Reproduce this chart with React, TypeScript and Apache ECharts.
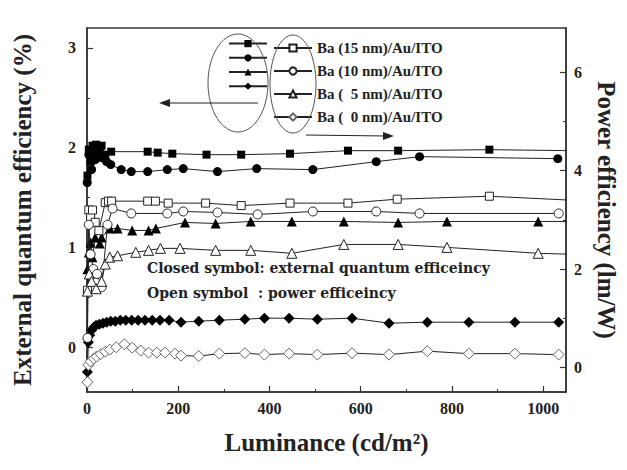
import React, { useEffect, useRef } from 'react';
import * as echarts from 'echarts';

// ---- axis ticks ----
const xTicks = [0, 200, 400, 600, 800, 1000];
const xMinorTicks = [100, 300, 500, 700, 900];
const eqeTicks = [0, 1, 2, 3];
const eqeMinorTicks = [0.5, 1.5, 2.5];
const peTicks = [0, 2, 4, 6];
const peMinorTicks = [1, 3, 5];

// ---- legend labels ----
const deviceNames = ['Ba (15 nm)/Au/ITO', 'Ba (10 nm)/Au/ITO', 'Ba (  5 nm)/Au/ITO', 'Ba (  0 nm)/Au/ITO'];

// ---- external quantum efficiency (%), closed symbols, left axis ----
const eqe15: number[][] = [[1, 1.72], [4, 1.98], [8, 1.86], [12, 2.02], [16, 1.95], [20, 2.03], [26, 1.97], [32, 2.02], [40, 1.93], [53, 1.96], [133, 1.96], [155, 1.95], [187, 1.94], [262, 1.93], [338, 1.93], [445, 1.94], [572, 1.97], [682, 1.97], [882, 1.98], [1060, 1.97]];
const eqe10: number[][] = [[0.5, 1.65], [4, 1.93], [10, 1.78], [18, 1.88], [32, 1.9], [43, 1.86], [52, 1.83], [75, 1.78], [97, 1.76], [133, 1.76], [176, 1.78], [211, 1.79], [286, 1.76], [372, 1.79], [495, 1.78], [634, 1.86], [729, 1.91], [1032, 1.89]];
const eqe5: number[][] = [[1, 0.78], [4, 0.95], [8, 1.05], [12, 0.9], [18, 1.1], [28, 1.04], [32, 1.1], [50, 1.19], [67, 1.19], [99, 1.17], [135, 1.17], [151, 1.19], [215, 1.25], [282, 1.24], [359, 1.26], [449, 1.26], [563, 1.26], [682, 1.25], [789, 1.26], [989, 1.26], [1060, 1.26]];
const eqe0: number[][] = [[1, -0.25], [3, 0.05], [6, 0.12], [10, 0.17], [15, 0.2], [20, 0.22], [27, 0.23], [35, 0.24], [43, 0.25], [52, 0.26], [62, 0.26], [73, 0.27], [85, 0.27], [98, 0.27], [112, 0.27], [127, 0.27], [143, 0.27], [160, 0.27], [180, 0.27], [206, 0.25], [245, 0.26], [290, 0.27], [346, 0.28], [389, 0.29], [443, 0.29], [505, 0.28], [581, 0.29], [662, 0.24], [746, 0.25], [837, 0.25], [938, 0.25], [1034, 0.25]];

// ---- power efficiency (lm/W), open symbols, right axis ----
const pe15: number[][] = [[1, 1.57], [4, 3.2], [8, 3.05], [12, 3.2], [18, 2.95], [26, 2.78], [40, 3.35], [47, 3.38], [54, 3.38], [133, 3.38], [150, 3.38], [178, 3.34], [260, 3.34], [338, 3.29], [445, 3.34], [572, 3.34], [680, 3.42], [882, 3.48], [1060, 3.4]];
const pe10: number[][] = [[1, 0.6], [4, 2.9], [8, 2.3], [14, 2.0], [22, 1.9], [32, 1.63], [45, 2.9], [56, 3.23], [97, 3.13], [176, 3.13], [211, 3.17], [286, 3.15], [374, 3.11], [495, 3.17], [634, 3.17], [729, 3.13], [1034, 3.13]];
const pe5: number[][] = [[1, 1.55], [5, 1.9], [10, 1.75], [20, 1.6], [32, 1.75], [40, 2.1], [50, 2.24], [67, 2.27], [107, 2.34], [135, 2.38], [161, 2.42], [204, 2.42], [282, 2.38], [359, 2.38], [449, 2.32], [563, 2.5], [682, 2.5], [789, 2.44], [989, 2.32], [1060, 2.3]];
const pe0: number[][] = [[1, -0.3], [3, 0.05], [8, 0.12], [15, 0.18], [21, 0.22], [30, 0.27], [40, 0.32], [50, 0.36], [64, 0.41], [82, 0.47], [99, 0.4], [118, 0.34], [135, 0.3], [153, 0.3], [171, 0.3], [193, 0.28], [206, 0.24], [245, 0.23], [290, 0.28], [346, 0.29], [389, 0.26], [443, 0.28], [505, 0.26], [581, 0.29], [662, 0.26], [746, 0.33], [837, 0.28], [938, 0.28], [1034, 0.26]];

const SERIF = '"Liberation Serif", "Times New Roman", serif';
const AX = '#333';

export default function App() {
  const ref = useRef<HTMLDivElement>(null);
  useEffect(() => {
    if (!ref.current) return;
    const chart = echarts.init(ref.current, undefined, { renderer: 'svg' });

    const closedSets = [eqe15, eqe10, eqe5, eqe0];
    const openSets = [pe15, pe10, pe5, pe0];
    const symbols = ['rect', 'circle', 'triangle', 'diamond'];
    const sizes = [8, 9, 10, 11];
    const closedNames = deviceNames.map((n) => 'EQE ' + n);

    const series: any[] = [];
    closedSets.forEach((d, i) => {
      series.push({
        type: 'line', name: closedNames[i], data: d, xAxisIndex: 0, yAxisIndex: 0,
        symbol: symbols[i], symbolSize: sizes[i], showSymbol: true,
        lineStyle: { color: '#222', width: 1 },
        itemStyle: { color: '#000', borderColor: '#000', borderWidth: 0 },
        emphasis: { disabled: true }, z: 3,
      });
    });
    openSets.forEach((d, i) => {
      series.push({
        type: 'line', name: deviceNames[i], data: d, xAxisIndex: 0, yAxisIndex: 1,
        symbol: symbols[i], symbolSize: sizes[i], showSymbol: true,
        lineStyle: { color: '#222', width: 1 },
        itemStyle: { color: '#fff', borderColor: i === 3 ? '#666' : '#222', borderWidth: 1 },
        emphasis: { disabled: true }, z: 4,
      });
    });

    const labelStyle = { fontFamily: SERIF, fontWeight: 'bold' as const, fontSize: 16, color: '#222' };
    const nameStyle = { fontFamily: SERIF, fontWeight: 'bold' as const, fontSize: 25, color: '#222' };
    const legendText = { fontFamily: SERIF, fontWeight: 'bold' as const, fontSize: 15, color: '#222', lineHeight: 16 };

    chart.setOption({
      animation: false,
      backgroundColor: '#fff',
      grid: { left: 87, right: 52, top: 28, bottom: 78, show: true, borderColor: AX, borderWidth: 1.5, backgroundColor: 'transparent' },
      legend: [
        {
          data: closedNames, orient: 'vertical', left: 228, top: 40, itemWidth: 38, itemHeight: 9, itemGap: 7,
          formatter: () => '', selectedMode: false, padding: 0, textStyle: legendText,
        },
        {
          data: deviceNames, orient: 'vertical', left: 273, top: 40, itemWidth: 38, itemHeight: 9, itemGap: 7,
          selectedMode: false, padding: 0, textStyle: legendText,
        },
      ],
      xAxis: [
        {
          type: 'value', min: 0, max: 1050, position: 'bottom',
          axisLine: { show: true, onZero: false, lineStyle: { color: AX, width: 1.5 } },
          axisTick: { show: true, inside: true, length: 6, customValues: xTicks, lineStyle: { color: AX, width: 1.2 } },
          axisLabel: { ...labelStyle, customValues: xTicks, margin: 8, formatter: (v: number) => String(v) },
          splitLine: { show: false },
          name: 'Luminance (cd/m²)', nameLocation: 'middle', nameGap: 38, nameTextStyle: nameStyle,
        },
        {
          type: 'value', min: 0, max: 1050, position: 'bottom',
          axisLine: { show: false, onZero: false },
          axisTick: { show: true, inside: true, length: 3, customValues: xMinorTicks, lineStyle: { color: AX, width: 1 } },
          axisLabel: { show: false }, splitLine: { show: false },
        },
      ],
      yAxis: [
        {
          type: 'value', min: -0.45, max: 3.2, position: 'left',
          axisLine: { show: true, onZero: false, lineStyle: { color: AX, width: 1.5 } },
          axisTick: { show: true, inside: true, length: 6, customValues: eqeTicks, lineStyle: { color: AX, width: 1.2 } },
          axisLabel: { ...labelStyle, customValues: eqeTicks, margin: 11 },
          splitLine: { show: false },
          name: 'External quantum efficiency (%)', nameLocation: 'middle', nameGap: 52, nameTextStyle: nameStyle,
        },
        {
          type: 'value', min: -0.5, max: 6.9, position: 'right',
          axisLine: { show: true, onZero: false, lineStyle: { color: AX, width: 1.5 } },
          axisTick: { show: true, inside: true, length: 6, customValues: peTicks, lineStyle: { color: AX, width: 1.2 } },
          axisLabel: { ...labelStyle, customValues: peTicks, margin: 8 },
          splitLine: { show: false },
          name: 'Power efficiency (lm/W)', nameLocation: 'middle', nameRotate: -90, nameGap: 28, nameTextStyle: nameStyle,
        },
        {
          type: 'value', min: -0.45, max: 3.2, position: 'left',
          axisLine: { show: false, onZero: false },
          axisTick: { show: true, inside: true, length: 3, customValues: eqeMinorTicks, lineStyle: { color: AX, width: 1 } },
          axisLabel: { show: false }, splitLine: { show: false },
        },
        {
          type: 'value', min: -0.5, max: 6.9, position: 'right',
          axisLine: { show: false, onZero: false },
          axisTick: { show: true, inside: true, length: 3, customValues: peMinorTicks, lineStyle: { color: AX, width: 1 } },
          axisLabel: { show: false }, splitLine: { show: false },
        },
      ],
      graphic: [
        { type: 'ellipse', shape: { cx: 238, cy: 83, rx: 30, ry: 49 }, style: { fill: 'none', stroke: '#555', lineWidth: 1 }, z: 10 },
        { type: 'ellipse', shape: { cx: 293, cy: 84, rx: 23, ry: 49 }, style: { fill: 'none', stroke: '#555', lineWidth: 1 }, z: 10 },
        { type: 'line', shape: { x1: 258, y1: 103, x2: 166, y2: 103 }, style: { stroke: '#222', lineWidth: 1 }, z: 10 },
        { type: 'polygon', shape: { points: [[159, 103], [170, 99], [170, 107]] }, style: { fill: '#222' }, z: 10 },
        { type: 'line', shape: { x1: 306, y1: 135, x2: 386, y2: 136 }, style: { stroke: '#222', lineWidth: 1 }, z: 10 },
        { type: 'polygon', shape: { points: [[394, 136], [383, 132], [383, 140]] }, style: { fill: '#222' }, z: 10 },
        { type: 'text', x: 147, y: 268, style: { text: 'Closed symbol: external quantum efficeincy', font: 'bold 14px "DejaVu Serif"', fill: '#222', verticalAlign: 'middle' }, z: 10 },
        { type: 'text', x: 147, y: 293, style: { text: 'Open symbol  : power efficeincy', font: 'bold 14px "DejaVu Serif"', fill: '#222', verticalAlign: 'middle' }, z: 10 },
      ],
      series,
    });
    return () => chart.dispose();
  }, []);
  return <div ref={ref} style={{ width: 627, height: 470, position: 'absolute', left: 0, top: 0 }} />;
}
